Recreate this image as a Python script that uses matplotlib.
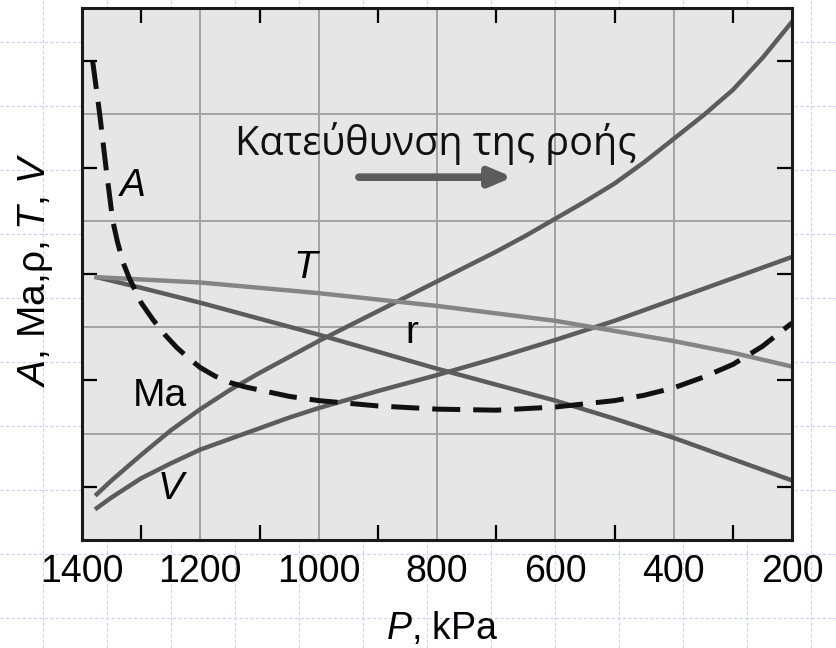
import numpy as np
import matplotlib
matplotlib.use("Agg")
import matplotlib.pyplot as plt

plt.rcParams["font.family"] = ["Liberation Sans", "DejaVu Sans"]
plt.rcParams["mathtext.fontset"] = "custom"
plt.rcParams["mathtext.rm"] = "Liberation Sans"
plt.rcParams["mathtext.it"] = "Liberation Sans:italic"

# values (P in kPa, quantities in grid units)
p_ma = [1375, 1350, 1325, 1300, 1250, 1200, 1150, 1100, 1050, 1000, 950, 900, 850, 800,
        750, 700, 650, 600, 550, 500, 450, 400, 350, 300, 250, 200]
ma = [0.43, 0.56, 0.68, 0.80, 1.03, 1.23, 1.41, 1.57, 1.72, 1.87, 2.01, 2.15, 2.29, 2.43,
      2.57, 2.71, 2.86, 3.02, 3.18, 3.35, 3.55, 3.77, 3.99, 4.23, 4.53, 4.87]

p_v = [1375, 1350, 1325, 1300, 1250, 1200, 1150, 1100, 1050, 1000, 900, 800, 700, 600,
       500, 400, 300, 200]
v = [0.30, 0.40, 0.49, 0.58, 0.72, 0.85, 0.95, 1.05, 1.15, 1.24, 1.40, 1.55, 1.71, 1.88,
     2.06, 2.26, 2.46, 2.66]

p_t = [1375, 1200, 1000, 800, 600, 400, 300, 200]
t = [2.47, 2.42, 2.32, 2.20, 2.06, 1.87, 1.76, 1.63]

p_r = [1375, 1300, 1200, 1100, 1000, 900, 800, 700, 600, 500, 400, 300, 200]
rho = [2.47, 2.37, 2.23, 2.08, 1.93, 1.77, 1.61, 1.46, 1.31, 1.14, 0.96, 0.76, 0.56]

p_a = [1382, 1370, 1359, 1348, 1340, 1330, 1320, 1300, 1280, 1260, 1240, 1220, 1200,
       1175, 1150, 1125, 1100, 1050, 1000, 900, 800, 700, 600, 500, 450, 400, 350,
       300, 250, 200]
a = [4.50, 4.00, 3.48, 3.00, 2.80, 2.60, 2.46, 2.23, 2.07, 1.93, 1.81, 1.71, 1.62,
     1.54, 1.48, 1.44, 1.41, 1.35, 1.31, 1.26, 1.23, 1.22, 1.25, 1.31, 1.36, 1.43,
     1.53, 1.65, 1.82, 2.04]

x_major = [1400, 1200, 1000, 800, 600, 400, 200]
x_minor = [1300, 1100, 900, 700, 500, 300]
y_major = [1, 2, 3, 4]
y_minor = [0.5, 1.5, 2.5, 3.5, 4.5]

fig = plt.figure(figsize=(8.36, 6.48), dpi=100)

# slide background grid
bg = fig.add_axes([0, 0, 1, 1], zorder=-1)
bg.set_xlim(0, 836)
bg.set_ylim(648, 0)
bg.axis("off")
for gx in np.arange(43, 836, 64):
    bg.axvline(gx, color="#c9d2f4", lw=0.8, ls=(0, (3, 2)))
for gy in np.arange(42, 648, 64):
    bg.axhline(gy, color="#c9d2f4", lw=0.8, ls=(0, (3, 2)))

ax = fig.add_axes([82 / 836, 108 / 648, 710 / 836, 532 / 648])
ax.set_facecolor("#e6e6e6")
ax.set_xlim(1400, 200)
ax.set_ylim(0, 5)

ax.set_xticks(x_major)
ax.set_xticks(x_minor, minor=True)
ax.set_yticks(y_major)
ax.set_yticks(y_minor, minor=True)
ax.set_yticklabels([])
ax.set_xticklabels([str(x) for x in x_major], fontsize=27)
ax.tick_params(which="major", length=0, pad=10)
ax.tick_params(which="minor", direction="in", length=11, width=1.6,
               top=True, bottom=True, left=True, right=True)
ax.grid(True, which="major", color="#a3a3a3", lw=1.4)
ax.set_axisbelow(True)
for s in ax.spines.values():
    s.set_linewidth(2.2)
    s.set_color("#1a1a1a")

ax.plot(p_ma, ma, color="#5c5c5c", lw=3.2)
ax.plot(p_v, v, color="#5c5c5c", lw=3.2)
ax.plot(p_r, rho, color="#5c5c5c", lw=3.2)
ax.plot(p_t, t, color="#858585", lw=3.2)
ax.plot(p_a, a, color="#111111", lw=3.6, ls=(0, (5.6, 2.6)), dash_capstyle="butt")

ax.text(1314, 3.33, "A", fontsize=28, style="italic", ha="center", va="center")
ax.text(1023, 2.56, "T", fontsize=28, style="italic", ha="center", va="center")
ax.text(842, 1.95, "r", fontsize=28, ha="center", va="center")
ax.text(1268, 1.35, "Ma", fontsize=28, ha="center", va="center")
ax.text(1250, 0.48, "V", fontsize=28, style="italic", ha="center", va="center")

ax.text(803, 3.62, "Κατεύθυνση της ροής", fontsize=28.5, family="Open Sans",
        color="#111111", ha="center", va="baseline")
ax.annotate("", xy=(672, 3.41), xytext=(932, 3.41),
            arrowprops=dict(arrowstyle="-|>,head_length=1.3,head_width=0.55",
                            color="#5c5c5c", lw=5.5, shrinkA=0, shrinkB=0))

fig.text(36 / 836, 1 - 270 / 648, r"$\mathit{A}$, Ma,ρ, $\mathit{T}$, $\mathit{V}$",
         fontsize=28, rotation=90, ha="center", va="center")
fig.text(442 / 836, 1 - 629 / 648, r"$\mathit{P}$, kPa", fontsize=27,
         ha="center", va="center")

fig.savefig("out.png", dpi=100)
